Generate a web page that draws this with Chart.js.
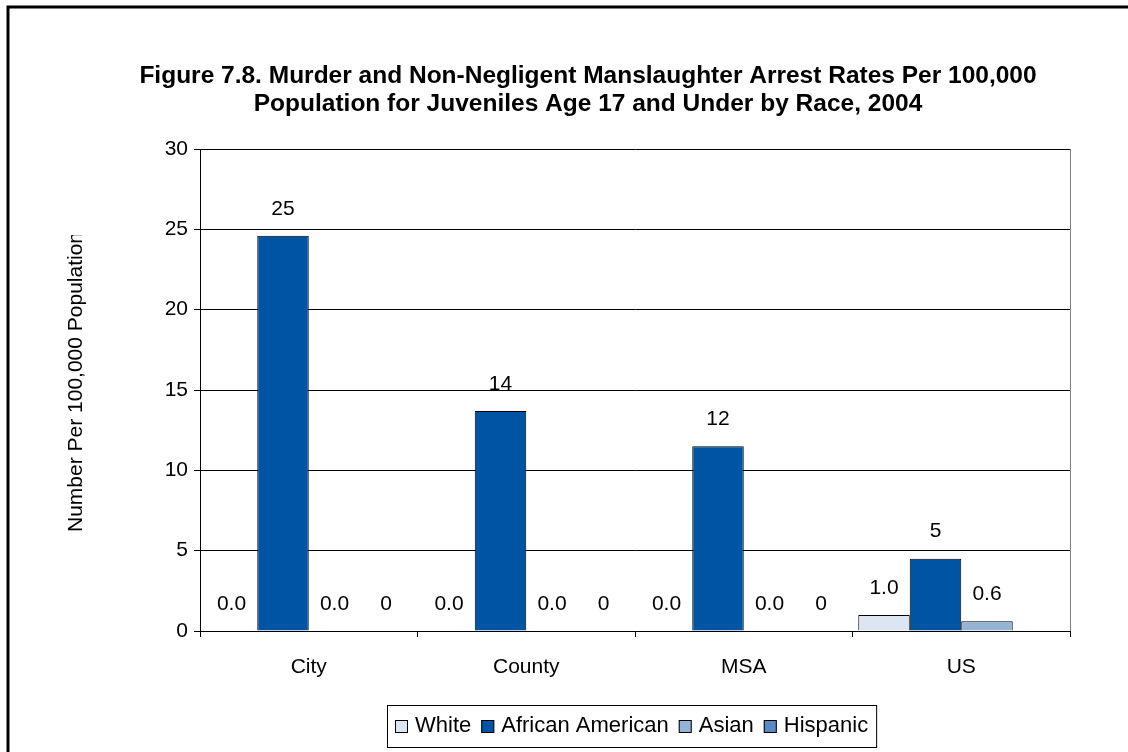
<!DOCTYPE html>
<html>
<head>
<meta charset="utf-8">
<script src="https://cdn.jsdelivr.net/npm/chart.js@4/dist/chart.umd.min.js"></script>
<style>
  body { margin: 0; background: #fff; }
  #wrap { width: 1128px; height: 752px; }
</style>
</head>
<body>
<div id="wrap"><canvas id="myChart" width="1128" height="752"></canvas></div>
<script>
// values
const categories = ['City', 'County', 'MSA', 'US'];
const white = [0, 0, 0, 1.0];
const africanAmerican = [24.6, 13.7, 11.5, 4.5];
const asian = [0, 0, 0, 0.6];
const hispanic = [0, 0, 0, null];
const yTicks = [0, 5, 10, 15, 20, 25, 30];

const titleLines = [
  'Figure 7.8. Murder and Non-Negligent Manslaughter Arrest Rates Per 100,000',
  'Population for Juveniles Age 17 and Under by Race, 2004'
];
const yTitle = 'Number Per 100,000 Population';

const FONT = 'Arial, "Liberation Sans", sans-serif';

// titles, value labels, legend box and the outer frame
const extras = {
  id: 'extras',
  afterDraw(chart) {
    const ctx = chart.ctx;
    const area = chart.chartArea;
    ctx.save();

    // outer frame (only top and left show in the picture)
    ctx.strokeStyle = '#000';
    ctx.lineWidth = 3;
    ctx.beginPath();
    ctx.moveTo(8, 752);
    ctx.lineTo(8, 7);
    ctx.lineTo(1128, 7);
    ctx.stroke();

    // right edge of plot
    ctx.strokeStyle = '#808080';
    ctx.lineWidth = 1;
    ctx.beginPath();
    ctx.moveTo(area.right + 0.5, area.top);
    ctx.lineTo(area.right + 0.5, area.bottom);
    ctx.stroke();

    // title
    ctx.fillStyle = '#000';
    ctx.textAlign = 'center';
    ctx.textBaseline = 'middle';
    ctx.font = 'bold 24.5px ' + FONT;
    ctx.fillText(titleLines[0], 588, 76);
    ctx.fillText(titleLines[1], 588, 104);

    // y axis title, clipped at the top like the original
    ctx.save();
    ctx.beginPath();
    ctx.rect(0, 235, 200, 517);
    ctx.clip();
    ctx.translate(76, 382);
    ctx.rotate(-Math.PI / 2);
    ctx.font = '21px ' + FONT;
    ctx.fillText(yTitle, 0, 0);
    ctx.restore();

    // value labels
    ctx.font = '21px ' + FONT;
    chart.data.datasets.forEach((ds, i) => {
      const meta = chart.getDatasetMeta(i);
      meta.data.forEach((bar, j) => {
        const v = ds.data[j];
        if (v === null || v === undefined) return;
        ctx.fillText(v.toFixed(ds.decimals), bar.x, bar.y - 27);
      });
    });

    // legend
    ctx.font = '22px ' + FONT;
    ctx.textAlign = 'left';
    const boxL = 387, boxT = 705, boxB = 747, cy = 726;
    let x = boxL + 8;
    ctx.strokeStyle = '#000';
    ctx.lineWidth = 1;
    chart.data.datasets.forEach((ds, i) => {
      ctx.fillStyle = ds.backgroundColor;
      ctx.fillRect(x, cy - 6, 13, 13);
      ctx.strokeRect(x + 0.5, cy - 5.5, 12, 12);
      x += 20;
      ctx.fillStyle = '#000';
      ctx.fillText(ds.label, x, cy);
      x += ctx.measureText(ds.label).width;
      if (i < chart.data.datasets.length - 1) x += 10;
    });
    ctx.strokeRect(boxL + 0.5, boxT + 0.5, x + 8 - boxL, boxB - boxT);

    ctx.restore();
  }
};

const ctx = document.getElementById('myChart').getContext('2d');
const myChart = new Chart(ctx, {
  type: 'bar',
  data: {
    labels: categories,
    datasets: [
      { label: 'White', data: white, decimals: 1, backgroundColor: '#dce6f2' },
      { label: 'African American', data: africanAmerican, decimals: 0, backgroundColor: '#0054a4' },
      { label: 'Asian', data: asian, decimals: 1, backgroundColor: '#95b3d7' },
      { label: 'Hispanic', data: hispanic, decimals: 0, backgroundColor: '#5a8ac6' }
    ].map(d => Object.assign(d, { borderColor: '#000', borderWidth: 1, borderSkipped: 'bottom' }))
  },
  options: {
    responsive: false,
    animation: false,
    events: [],
    categoryPercentage: 0.947,
    barPercentage: 1,
    layout: { padding: { left: 150, right: 58, top: 149, bottom: 61 } },
    plugins: {
      legend: { display: false },
      title: { display: false },
      tooltip: { enabled: false }
    },
    scales: {
      x: {
        offset: true,
        grid: { offset: true, drawOnChartArea: false, drawTicks: true, tickLength: 6, color: '#000' },
        border: { color: '#000' },
        ticks: { color: '#000', font: { family: FONT, size: 21 }, padding: 18 },
        afterFit: s => { s.height = 60; }
      },
      y: {
        min: 0,
        max: 30,
        afterBuildTicks: s => { s.ticks = yTicks.map(v => ({ value: v })); },
        grid: { color: '#000', tickLength: 6 },
        border: { color: '#000' },
        ticks: { color: '#000', font: { family: FONT, size: 21 }, padding: 6 },
        afterFit: s => { s.width = 50; }
      }
    }
  },
  plugins: [extras]
});
</script>
</body>
</html>
